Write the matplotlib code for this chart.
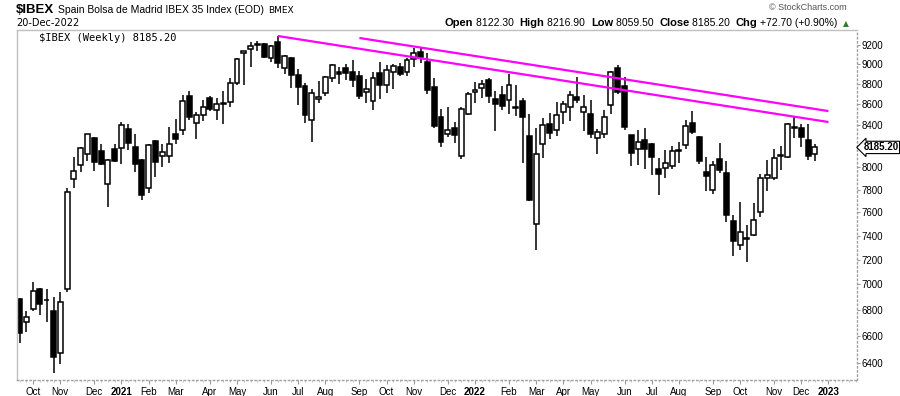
import numpy as np
import pandas as pd
import matplotlib
matplotlib.use('Agg')
import matplotlib.pyplot as plt
from matplotlib.ticker import NullLocator, FixedLocator
from matplotlib.offsetbox import TextArea, HPacker, AnnotationBbox

plt.rcParams['font.family'] = ['Liberation Sans', 'DejaVu Sans']

# weekly candles, first week starts 2020-09-21
start_week = '2020-09-21'

opens = [6885, 6707, 6807, 6964, 6880, 6791, 6474, 6964, 7895, 8023,
         8124, 8274, 8152, 7850, 8170, 8179, 8360, 8189, 8068, 7815,
         8246, 8105, 8105, 8312, 8350, 8680, 8416, 8493, 8660, 8542,
         8611, 8620, 8810, 9117, 9158, 9211, 9211, 9064, 9232, 8962,
         9064, 8890, 8779, 8445, 8650, 8709, 8860, 8921, 8962, 8921,
         8880, 8719, 8630, 8911, 8790, 8921, 8972, 8921, 9054, 9127,
         9023, 8769, 8474, 8312, 8369, 8105, 8503, 8719, 8759, 8840,
         8650, 8689, 8640, 8571, 8630, 8293, 7501, 8217, 8407, 8350,
         8522, 8571, 8670, 8522, 8503, 8274, 8312, 8591, 8962, 8779,
         8302, 8170, 8255, 8217, 7986, 7995, 8013, 8161, 8208, 8416,
         8284, 7959, 7797, 8077, 7950, 7526, 7322, 7381, 7407, 7604,
         7904, 7904, 8114, 8096, 8379, 8369, 8255, 8122.3]
highs = [6893, 6791, 7020, 6972, 6964, 6901, 6940, 7815, 8096, 8189,
         8312, 8284, 8217, 8077, 8217, 8426, 8407, 8312, 8077, 8217,
         8255, 8217, 8379, 8455, 8689, 8729, 8522, 8640, 8680, 8660,
         8729, 8860, 9064, 9138, 9232, 9242, 9221, 9200, 9295, 9096,
         9075, 8951, 8810, 8749, 8830, 8880, 9003, 8972, 9003, 9044,
         8931, 8850, 8921, 9023, 8992, 9003, 9013, 9064, 9169, 9169,
         9117, 8860, 8552, 8571, 8426, 8571, 8719, 8820, 8840, 8860,
         8729, 8779, 8900, 8790, 8660, 8503, 8369, 8465, 8513, 8620,
         8630, 8729, 8870, 8689, 8640, 8360, 8542, 8931, 8992, 8870,
         8302, 8350, 8369, 8227, 8087, 8161, 8198, 8236, 8445, 8532,
         8293, 8096, 8059, 8227, 8059, 7578, 7690, 7492, 7682, 7940,
         8068, 8170, 8198, 8416, 8474, 8407, 8407, 8216.9]
lows = [6548, 6631, 6791, 6760, 6707, 6327, 6393, 6940, 7815, 7959,
        8059, 7968, 8023, 7647, 8050, 8032, 8161, 7959, 7708, 7770,
        7913, 8004, 8041, 8217, 8302, 8445, 8265, 8435, 8532, 8445,
        8407, 8571, 8790, 8790, 8972, 9138, 9064, 9023, 8962, 8900,
        8759, 8591, 8416, 8236, 8611, 8680, 8820, 8800, 8840, 8769,
        8650, 8611, 8542, 8650, 8709, 8749, 8880, 8880, 8972, 9013,
        8699, 8369, 8189, 8284, 8227, 8077, 8493, 8611, 8660, 8611,
        8340, 8542, 8503, 8484, 8041, 7699, 7281, 8087, 8265, 8293,
        8407, 8435, 8611, 8340, 8274, 8124, 8274, 8503, 8699, 8350,
        8013, 8023, 7986, 7932, 7752, 7904, 7986, 8041, 8170, 8312,
        8032, 7788, 7761, 7950, 7518, 7231, 7281, 7182, 7398, 7561,
        7788, 7886, 7977, 8090, 8274, 8189, 8068, 8059.5]
closes = [6623, 6745, 6948, 6846, 6875, 6444, 6862, 7779, 7968, 8179,
          8312, 8050, 8032, 8068, 8059, 8397, 8227, 8032, 7752, 8208,
          8050, 8142, 8217, 8265, 8630, 8474, 8493, 8571, 8552, 8601,
          8605, 8810, 9054, 9138, 9190, 9205, 9075, 9190, 9013, 9085,
          8890, 8769, 8493, 8709, 8670, 8870, 8992, 8900, 8911, 8840,
          8680, 8749, 8860, 8790, 8941, 8982, 8900, 9044, 9117, 9075,
          8739, 8388, 8236, 8350, 8302, 8552, 8699, 8739, 8800, 8680,
          8601, 8581, 8790, 8565, 8474, 7708, 8124, 8397, 8321, 8493,
          8601, 8689, 8640, 8571, 8312, 8331, 8474, 8921, 8719, 8379,
          8133, 8236, 8170, 8096, 7941, 8041, 8152, 8155, 8388, 8331,
          8059, 7922, 8023, 7977, 7578, 7356, 7432, 7373, 7535, 7904,
          7932, 8087, 8110, 8407, 8369, 8284, 8105, 8185.2]

# resistance lines: (week index, price) at both ends
line_a_weeks = [38, 119]
line_a_prices = [9295, 8426]
line_b_weeks = [50, 119]
line_b_prices = [9274, 8532]

y_ticks = [6400, 6600, 6800, 7000, 7200, 7400, 7600, 7800, 8000,
           8400, 8600, 8800, 9000, 9200]
last_close = 8185.20


def draw_candles(ax):
    o = np.array(opens)
    c = np.array(closes)
    x = np.arange(len(o))
    up = c >= o
    lo = np.minimum(o, c)
    hi = np.maximum(o, c)
    ax.vlines(x, lows, highs, color='black', lw=1.1, zorder=1)
    ax.bar(x[up], (hi - lo)[up], bottom=lo[up], width=0.72,
           facecolor='white', edgecolor='black', lw=1.1, zorder=2)
    ax.bar(x[~up], (hi - lo)[~up], bottom=lo[~up], width=0.72,
           facecolor='black', edgecolor='black', lw=1.1, zorder=2)


def style_axes(ax):
    ax.set_yscale('log')
    ax.set_ylim(6277, 9359)
    ax.set_xlim(-0.37, 123.2)

    ax.yaxis.tick_right()
    ax.yaxis.set_major_locator(FixedLocator(y_ticks))
    ax.yaxis.set_minor_locator(NullLocator())
    ax.set_yticklabels([str(t) for t in y_ticks])
    ax.tick_params(axis='y', which='major', length=2, width=0.8,
                   color='#999999', labelsize=7, pad=1)

    weeks = pd.date_range(start_week, periods=124, freq='7D')
    tick_pos, tick_lab, tick_bold = [], [], []
    for i in range(1, len(weeks)):
        if weeks[i].month != weeks[i - 1].month:
            tick_pos.append(i)
            if weeks[i].month == 1:
                tick_lab.append(str(weeks[i].year))
                tick_bold.append(True)
            else:
                tick_lab.append(weeks[i].strftime('%b'))
                tick_bold.append(False)
    ax.set_xticks(tick_pos)
    ax.set_xticklabels(tick_lab)
    for lab, b in zip(ax.get_xticklabels(), tick_bold):
        if b:
            lab.set_fontweight('bold')
            lab.set_fontsize(8)
    ax.xaxis.set_minor_locator(FixedLocator(np.arange(0, 124)))
    ax.tick_params(axis='x', which='major', length=3, width=0.8,
                   color='#999999', labelsize=7, pad=2)
    ax.tick_params(axis='x', which='minor', length=1.5, width=0.6,
                   color='#bbbbbb')

    for side in ['left', 'top']:
        ax.spines[side].set_color('#c0c0c0')
        ax.spines[side].set_linewidth(1)
    for side in ['right', 'bottom']:
        ax.spines[side].set_color('#a0a0a0')
        ax.spines[side].set_linestyle((0, (1, 2)))
        ax.spines[side].set_linewidth(1)


def draw_header(fig):
    title = HPacker(children=[
        TextArea('$IBEX', textprops=dict(fontsize=9.5, fontweight='bold')),
        TextArea('Spain Bolsa de Madrid IBEX 35 Index (EOD)',
                 textprops=dict(fontsize=7.5)),
        TextArea('BMEX', textprops=dict(fontsize=6.5, family='DejaVu Sans')),
    ], sep=3, align='baseline')
    fig.add_artist(AnnotationBbox(title, (16 / 900, 1 - 10 / 396),
                                  xycoords='figure fraction',
                                  box_alignment=(0, 0.5), frameon=False, pad=0))
    fig.text(16 / 900, 1 - 23 / 396, '20-Dec-2022', fontsize=7,
             family='DejaVu Sans', va='center', ha='left')

    parts = [('Open', '8122.30'), ('High', '8216.90'), ('Low', '8059.50'),
             ('Close', '8185.20'), ('Chg', '+72.70 (+0.90%)')]
    kids = []
    for name, val in parts:
        kids.append(TextArea(name, textprops=dict(fontsize=8, fontweight='bold')))
        kids.append(TextArea(val + ' ', textprops=dict(fontsize=7.5)))
    kids.append(TextArea('\u25b2', textprops=dict(fontsize=5.5, color='#2e7d32',
                                                 family='DejaVu Sans')))
    quote = HPacker(children=kids, sep=2, align='baseline')
    fig.add_artist(AnnotationBbox(quote, (849 / 900, 1 - 23 / 396),
                                  xycoords='figure fraction',
                                  box_alignment=(1, 0.5), frameon=False, pad=0))
    fig.text(847 / 900, 1 - 7 / 396, '\u00a9 StockCharts.com', fontsize=6.5,
             color='#555555', ha='right', va='center')


def main():
    fig = plt.figure(figsize=(9, 3.96), dpi=100)
    ax = fig.add_axes([17 / 900, 16 / 396, 840 / 900, 350 / 396])

    draw_candles(ax)
    ax.plot(line_a_weeks, line_a_prices, color='#ff00ff', lw=1.6,
            solid_capstyle='butt', zorder=3)
    ax.plot(line_b_weeks, line_b_prices, color='#ff00ff', lw=1.6,
            solid_capstyle='butt', zorder=3)
    style_axes(ax)

    ax.text(22 / 840, 1 - 8 / 350, '$IBEX (Weekly) 8185.20',
            transform=ax.transAxes, family='DejaVu Sans Mono', fontsize=7.5,
            va='center', ha='left')

    ax.annotate(f'{last_close:.2f}', xy=(1, last_close),
                xycoords=('axes fraction', 'data'),
                xytext=(4.5, 0), textcoords='offset points',
                fontsize=7, fontweight='bold', va='center', ha='left',
                bbox=dict(boxstyle='larrow,pad=0.12', fc='white', ec='black', lw=0.8),
                annotation_clip=False)

    draw_header(fig)
    fig.savefig('out.png', dpi=100)


if __name__ == '__main__':
    main()
